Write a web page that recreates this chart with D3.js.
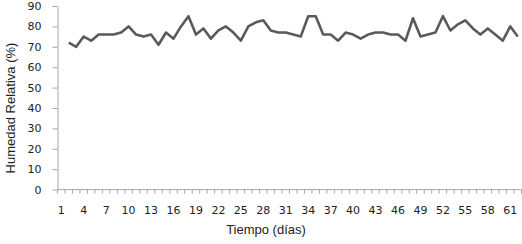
<!DOCTYPE html>
<html>
<head>
<meta charset="utf-8">
<script src="https://cdn.jsdelivr.net/npm/d3@7"></script>
<style>
  body { margin: 0; background: #fff; }
  svg { display: block; }
  .tick text { font-family: 'DejaVu Sans', Verdana, sans-serif; font-size: 11px; fill: #222; }
  .title { font-family: 'Liberation Sans', Arial, sans-serif; font-size: 13px; fill: #222; }
</style>
</head>
<body>
<svg width="522" height="244"></svg>
<script>
// categories shown on the axis (the first one carries no reading)
const days = d3.range(1, 63)
// relative humidity (%) per category, first category empty
const humidity = [null,
  72, 70, 75, 73, 76, 76, 76, 77, 80, 76,
  75, 76, 71, 77, 74, 80, 85, 76, 79, 74,
  78, 80, 77, 73, 80, 82, 83, 78, 77, 77,
  76, 75, 85, 85, 76, 76, 73, 77, 76, 74,
  76, 77, 77, 76, 76, 73, 84, 75, 76, 77,
  85, 78, 81, 83, 79, 76, 79, 76, 73, 80, 75]
const xTickLabels = d3.range(1, 62, 3)
const yTicks = d3.range(0, 91, 10)

const svg = d3.select('svg')

const x = d3.scaleBand()
    .domain(days)
    .range([57.5, 521.5])
const y = d3.scaleLinear()
    .domain([0, 90])
    .range([189.6, 6])

const cx = d => x(d) + x.bandwidth() / 2

// y axis
const yAxis = svg.append('g')
    .attr('transform', 'translate(57.5,0)')
    .call(d3.axisLeft(y).tickValues(yTicks).tickSize(5).tickSizeOuter(0).tickPadding(11))
yAxis.select('.domain').attr('stroke', '#a6a6a6')
yAxis.selectAll('.tick line').attr('stroke', '#a6a6a6')

// x axis line + minor ticks between categories
const xAxis = svg.append('g')
    .attr('transform', `translate(0,${y(0)})`)
xAxis.append('line')
    .attr('x1', x.range()[0]).attr('x2', x.range()[1])
    .attr('stroke', '#a6a6a6')
xAxis.selectAll('.minor')
    .data(days.concat([null]))
    .enter().append('line')
        .attr('class', 'minor')
        .attr('x1', (d, i) => d === null ? x.range()[1] : x(d))
        .attr('x2', (d, i) => d === null ? x.range()[1] : x(d))
        .attr('y1', 0).attr('y2', 4)
        .attr('stroke', '#a6a6a6')
xAxis.selectAll('.tick')
    .data(xTickLabels)
    .enter().append('g')
        .attr('class', 'tick')
        .attr('transform', d => `translate(${cx(d)},0)`)
        .append('text')
            .attr('y', 24)
            .attr('text-anchor', 'middle')
            .text(d => d)

// line
const line = d3.line()
    .defined(d => d[1] !== null)
    .x(d => cx(d[0]))
    .y(d => y(d[1]))

svg.append('path')
    .datum(days.map((d, i) => [d, humidity[i]]))
    .attr('fill', 'none')
    .attr('stroke', '#5a5a5c')
    .attr('stroke-width', 2.6)
    .attr('stroke-linejoin', 'round')
    .attr('d', line)

// titles
svg.append('text')
    .attr('class', 'title')
    .attr('x', 266)
    .attr('y', 234)
    .attr('text-anchor', 'middle')
    .text('Tiempo (días)')

svg.append('text')
    .attr('class', 'title')
    .attr('transform', 'translate(15,108) rotate(-90)')
    .attr('text-anchor', 'middle')
    .text('Humedad Relativa (%)')
</script>
</body>
</html>
